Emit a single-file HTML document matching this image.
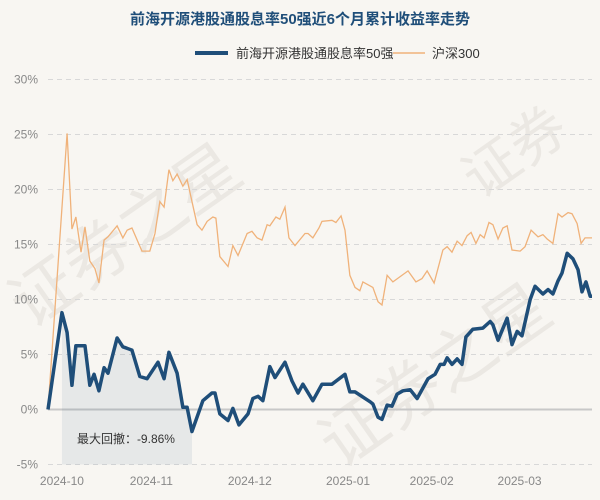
<!DOCTYPE html>
<html><head><meta charset="utf-8"><style>
html,body{margin:0;padding:0;width:600px;height:500px;overflow:hidden;background:#f8f6f2;}
svg{display:block;font-family:"Liberation Sans","Noto Sans CJK SC",sans-serif;overflow:hidden;}
</style></head><body>
<svg id="chart" width="600" height="500">
<rect width="600" height="500" fill="#f8f6f2"/>
<g id="wm" fill="#ebe8e3" font-size="66">
<text transform="translate(30,330) rotate(-35)">证券之星</text>
<text transform="translate(340,470) rotate(-35)">证券之星</text>
<text font-size="56" transform="translate(480,200) rotate(-35)">证券</text>
</g>
<text x="300" y="24" text-anchor="middle" font-size="15" font-weight="bold" fill="#1f4e79">前海开源港股通股息率50强近6个月累计收益率走势</text>
<g>
<line x1="195" y1="53" x2="228" y2="53" stroke="#1f4e79" stroke-width="4"/>
<text x="236" y="58" font-size="13" fill="#333">前海开源港股通股息率50强</text>
<line x1="393" y1="53" x2="425" y2="53" stroke="#f0b27a" stroke-width="1.5"/>
<text x="432" y="58" font-size="13" fill="#333">沪深300</text>
</g>
<g id="grid"></g><g id="area"></g><g id="lines"></g><g id="labels"></g>
</svg>
<script>
const yTicks=[-5,0,5,10,15,20,25,30];
const xTickDays=[0,29.5,62,94.4,122,151];
const xTickLabels=["2024-10","2024-11","2024-12","2025-01","2025-02","2025-03"];
const fundDays=[-4.6,0,1.7,3.3,4.6,7.6,9.2,10.6,12.2,13.9,15.2,18.2,20.1,23.1,25.7,28.1,31.7,33.7,35.3,38,39.9,41.3,42.9,46.5,49.5,50.5,52.1,54.8,56.4,58.4,61.4,63,64.7,66.3,68.6,70.3,73.6,75.9,77.9,79.5,82.8,85.8,89.1,93.4,95,96.7,101.7,102.6,104.3,105.6,107.3,108.9,110.6,112.5,114.9,117.2,120.8,123.1,124.8,126.1,127.1,128.7,130.4,132,133.3,135.6,138.9,141.3,142.2,143.9,146.9,148.5,150.2,151.8,154.5,156.1,158.7,160.4,162,163.7,165,166.7,168.6,170.3,171.6,172.9,174.3,174.9];
const fundValues=[0,8.8,7,2.2,5.8,5.8,2.2,3.2,1.7,3.8,3.3,6.5,5.7,5.4,3,2.8,4.3,2.8,5.2,3.3,0.2,0.2,-2,0.8,1.5,1.5,-0.4,-1,0.1,-1.4,-0.4,1,1.2,0.8,3.9,2.9,4.3,2.6,1.5,2.3,0.8,2.3,2.3,3.2,1.6,1.6,0.7,0.5,-0.7,-0.9,0.4,0.3,1.4,1.7,1.8,1,2.8,3.2,4.1,4.1,4.7,4.1,4.6,4.1,6.6,7.3,7.4,8,7.7,6.3,8.3,5.9,7.1,6.7,10,11.2,10.5,10.9,10.5,11.7,12.4,14.2,13.7,12.7,10.7,11.6,10.3,10.3];
const hsDays=[-4.6,1.7,3.3,4.6,6.3,7.6,9.2,10.9,12.2,13.9,15.2,18.2,20.1,21.5,23.1,26.4,29,30.7,32.3,33.7,35.3,36.6,38,39.9,41.3,44.6,46.2,47.9,49.8,50.8,52.1,54.8,56.4,58.1,61.1,62.7,64.4,66,67.7,68.6,70.6,71.9,73.6,74.9,76.9,80.2,81.2,82.8,84.8,85.8,89.1,90.4,92.1,93.4,95,96.7,98.3,99.3,102.6,104.3,105.6,107.3,109.2,111.2,114.2,116.8,118.8,120.5,122.8,125.7,127.1,128.7,130.4,132,133.7,135,136.6,138,139.3,140.9,142.2,143.9,145.5,146.9,148.5,151.2,152.8,154.8,157.1,158.7,160.1,162,163.7,165,167,168.3,170,171.3,172.6,174.3,174.9];
const hsValues=[0,25.1,16.4,17.5,14.3,16.6,13.5,12.8,11.5,15.4,15.7,16.7,15.6,16.3,16.5,14.4,14.4,16,18.9,18.4,21.8,20.8,21.4,20.3,20.9,16.8,16.3,17.1,17.5,17.4,13.9,13,14.9,14,16,16.2,15.6,15.4,16.8,16.7,17.5,17.3,18.4,15.6,14.9,16,16,15.6,16.5,17.1,17.2,17,17.6,16.3,12.2,11.1,10.8,11.6,11.1,9.8,9.5,12.2,11.6,12,12.6,11.6,11.9,12.6,11.5,14.5,14.8,14.3,15.3,14.9,15.8,16.1,15.1,15.9,15.6,17,16.8,15.5,16.5,16.7,14.5,14.4,14.8,16.3,15.7,15.9,15.5,15.1,17.8,17.5,17.9,17.8,16.9,15.1,15.6,15.6,15.6];
const drawdownLabel="最大回撤：-9.86%";
const NS="http://www.w3.org/2000/svg";
const X0=48,X1=592,D0=-4.6,D1=174.9,Y0=409.5,PX=11;
const xs=d=>X0+(d-D0)/(D1-D0)*(X1-X0);
const ys=v=>Y0-v*PX;
function mk(tag,attrs,parent){const e=document.createElementNS(NS,tag);for(const k in attrs)e.setAttribute(k,attrs[k]);parent.appendChild(e);return e;}
const grid=document.getElementById('grid'),lab=document.getElementById('labels');
yTicks.forEach(t=>{
 const l=mk('line',{x1:X0,x2:X1,y1:ys(t),y2:ys(t),stroke:t===0?'#c8c8c8':'#d8d8d8','stroke-width':t===0?2:1,'stroke-dasharray':t===0?'':'5,4'},grid);
 
 
 const tx=mk('text',{x:38,y:ys(t)+4,'text-anchor':'end','font-size':12,fill:'#888'},lab);
 tx.textContent=t+'%';
 
 
});
xTickDays.forEach((d,i)=>{
 const tx=mk('text',{x:xs(d),y:485,'text-anchor':'middle','font-size':12,fill:'#888'},lab);
 tx.textContent=xTickLabels[i];
 
 
});
let trough=0;fundValues.forEach((v,i)=>{if(v<fundValues[trough])trough=i;});
let peak=0;for(let i=0;i<=trough;i++)if(fundValues[i]>fundValues[peak])peak=i;
let pts=[];for(let i=peak;i<=trough;i++)pts.push(xs(fundDays[i])+','+ys(fundValues[i]));
const yb=ys(-5);
pts.push(xs(fundDays[trough])+','+yb);pts.push(xs(fundDays[peak])+','+yb);
const area=mk('polygon',{points:pts.join(' '),fill:'#1f4e79','fill-opacity':0.08},document.getElementById('area'));


const ddt=mk('text',{x:xs(fundDays[peak])+15,y:443,'font-size':12,fill:'#333'},lab);
ddt.textContent=drawdownLabel;


const lines=document.getElementById('lines');
const hs=mk('polyline',{points:hsDays.map((d,i)=>xs(d)+','+ys(hsValues[i])).join(' '),fill:'none',stroke:'#f0b27a','stroke-width':1.3},lines);


const fd=mk('polyline',{points:fundDays.map((d,i)=>xs(d)+','+ys(fundValues[i])).join(' '),fill:'none',stroke:'#1f4e79','stroke-width':3.5,'stroke-linejoin':'round'},lines);


</script>
</body></html>
